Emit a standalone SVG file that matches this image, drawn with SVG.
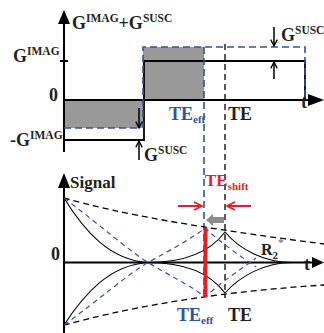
<svg xmlns="http://www.w3.org/2000/svg" width="324" height="333" viewBox="0 0 324 333">
<style>
.lbl{font-family:"Liberation Serif","Times New Roman",serif;font-weight:bold;font-size:18px;fill:#231f20}
.sup{font-size:11.5px}
.sub{font-size:11px}
.blue{fill:#2f52a8}
.red{fill:#ed1c24}
.ax{stroke:#000;stroke-width:2;fill:none}
.step{stroke:#000;stroke-width:1.8;fill:none}
.bd{stroke:#2f52a8;stroke-width:1.6;fill:none;stroke-dasharray:7 4}
.kd{stroke:#000;stroke-width:1.3;fill:none;stroke-dasharray:6 4}
.curve{stroke:#000;stroke-width:1.1;fill:none}
.bcurve{stroke:#2f52a8;stroke-width:1.2;fill:none;stroke-dasharray:5 4}
.sa{stroke:#000;stroke-width:1.5;fill:none;marker-end:url(#ahk)}
.ra{stroke:#ed1c24;stroke-width:2;fill:none;marker-end:url(#ahr)}
</style>
<defs>
<marker id="ahk" viewBox="0 0 10 10" refX="9" refY="5" markerWidth="8" markerHeight="8" orient="auto" markerUnits="userSpaceOnUse">
<path d="M1,1 L9,5 L1,9" fill="none" stroke="#000" stroke-width="1.6"/>
</marker>
<marker id="ahr" viewBox="0 0 10 10" refX="9" refY="5" markerWidth="10" markerHeight="10" orient="auto" markerUnits="userSpaceOnUse">
<path d="M1,1 L9,5 L1,9" fill="none" stroke="#ed1c24" stroke-width="1.8"/>
</marker>
</defs>

<g id="top-plot">
<rect x="64" y="100" width="79" height="28" fill="#999"/>
<rect x="143" y="47" width="61" height="53" fill="#999"/>
<line class="ax" x1="64" y1="152" x2="64" y2="20"/>
<polygon points="58,24 64,10 70,24" fill="#000"/>
<line class="ax" x1="60" y1="61" x2="68" y2="61"/>
<line class="ax" x1="64" y1="100" x2="310" y2="100"/>
<polygon points="308,94 324,100 308,106" fill="#000"/>
<path class="step" d="M64,140 H144 V61 H305 V100"/>
<path class="bd" d="M64,128 H141"/>
<path class="bd" d="M143,128 V47 H305 V100"/>
<line class="sa" x1="139" y1="108" x2="139" y2="128"/>
<line class="sa" x1="139" y1="160" x2="139" y2="141"/>
<line class="sa" x1="274" y1="27" x2="274" y2="46"/>
<line class="sa" x1="274" y1="79" x2="274" y2="62"/>
<text class="lbl" x="72" y="29">G<tspan class="sup" dy="-7">IMAG</tspan><tspan dy="7">+G</tspan><tspan class="sup" dy="-7">SUSC</tspan></text>
<text class="lbl" x="13" y="62">G<tspan class="sup" dy="-7">IMAG</tspan></text>
<text class="lbl" x="49" y="101">0</text>
<text class="lbl" x="10" y="146">-G<tspan class="sup" dy="-7">IMAG</tspan></text>
<text class="lbl" x="144" y="161">G<tspan class="sup" dy="-7">SUSC</tspan></text>
<text class="lbl" x="281" y="41">G<tspan class="sup" dy="-7">SUSC</tspan></text>
<text class="lbl" x="301" y="108">t</text>
<text class="lbl blue" x="169" y="120">TE<tspan class="sub" dy="3">eff</tspan></text>
<text class="lbl" x="228" y="120">TE</text>
</g>

<g id="echo-lines">
<line class="bd" x1="204" y1="47" x2="204" y2="300"/>
<line class="kd" x1="225" y1="44" x2="225" y2="298"/>
</g>

<g id="bottom-plot">
<line class="ax" x1="64" y1="333" x2="64" y2="185"/>
<polygon points="58,188 64,173 70,188" fill="#000"/>
<line class="ax" x1="64" y1="262.5" x2="314" y2="262.5"/>
<polygon points="312,257 324,262.5 312,268" fill="#000"/>
<path class="kd" d="M64,198 C120,214 200,228 324,244"/>
<path class="kd" d="M64,325 C120,310 200,293 324,285"/>
<path class="curve" d="M64,198 C85,232 110,260 148,262.5 C185,262.5 210,252 225,232 C240,250 265,262.5 292,262.5"/>
<path class="curve" d="M64,325 C85,293 110,265 148,262.5 C185,262.5 210,273 225,293 C240,276 265,262.5 292,262.5"/>
<path class="bcurve" d="M64,198 C100,225 128,250 148,262.5 C170,276 190,285 205,297 C220,283 240,270 256,258"/>
<path class="bcurve" d="M64,325 C100,299 128,274 148,262.5 C170,250 190,240 205,228 C220,242 240,256 256,267"/>
<line x1="205.5" y1="228" x2="205.5" y2="297" stroke="#ed1c24" stroke-width="4"/>
<line class="ra" x1="178" y1="206" x2="202" y2="206"/>
<line class="ra" x1="251" y1="206" x2="227" y2="206"/>
<polygon points="224,217 213,217 213,214 206,220 213,226 213,223 224,223" fill="#8c8c8c"/>
<text class="lbl" x="70" y="188" style="font-size:17px">Signal</text>
<text class="lbl" x="51" y="260">0</text>
<text class="lbl" x="304" y="270">t</text>
<text class="lbl red" x="205" y="186" style="font-size:17px">TE<tspan class="sub" dy="4">shift</tspan></text>
<text class="lbl" x="261" y="255" style="font-size:16px">R<tspan class="sub" dy="4">2</tspan><tspan class="sub" dy="-13" style="fill:#777">*</tspan></text>
<text class="lbl blue" x="177" y="321">TE<tspan class="sub" dy="3">eff</tspan></text>
<text class="lbl" x="228" y="321">TE</text>
</g>
</svg>
